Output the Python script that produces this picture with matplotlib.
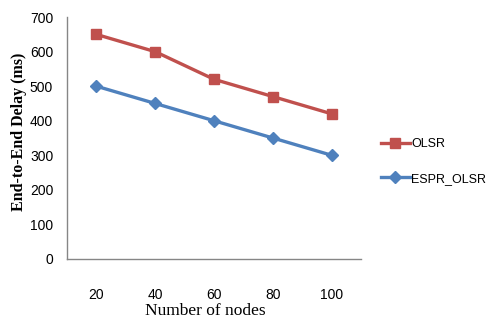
import matplotlib
matplotlib.use("Agg")
import matplotlib.pyplot as plt
import numpy as np

# data
nodes = ["20", "40", "60", "80", "100"]
olsr = [650, 600, 520, 470, 420]
espr_olsr = [500, 450, 400, 350, 300]
yticks = [0, 100, 200, 300, 400, 500, 600, 700]

tick_font = ["Liberation Sans", "DejaVu Sans"]
serif_font = ["Liberation Serif", "DejaVu Serif"]

fig = plt.figure(figsize=(4.86, 3.18), dpi=100)
ax = fig.add_axes([0.138, 0.186, 0.605, 0.76])

x = np.arange(len(nodes))
ax.plot(x, olsr, color="#C0504D", lw=2.4, marker="s", ms=7.5, label="OLSR")
ax.plot(x, espr_olsr, color="#4F81BD", lw=2.4, marker="D", ms=6.5, label="ESPR_OLSR")

ax.set_xlim(-0.5, len(nodes) - 0.5)
ax.set_ylim(0, 700)
ax.set_xticks(x)
ax.set_xticklabels(nodes, family=tick_font, fontsize=10)
ax.set_yticks(yticks)
ax.set_yticklabels([str(v) for v in yticks], family=tick_font, fontsize=10)
ax.tick_params(axis="both", length=0)
ax.tick_params(axis="y", pad=10)
ax.tick_params(axis="x", pad=21)

for s in ["top", "right"]:
    ax.spines[s].set_visible(False)
for s in ["left", "bottom"]:
    ax.spines[s].set_color("#868686")
    ax.spines[s].set_linewidth(1.0)

ax.set_xlabel("Number of nodes", family=serif_font, fontsize=12.5)
ax.xaxis.set_label_coords(0.47, -0.215)
ax.xaxis.label.set_va("center")
ax.set_ylabel("End-to-End Delay (ms)", family=serif_font, fontsize=11.5, fontweight="bold")
ax.yaxis.set_label_coords(-0.165, 0.525)
ax.yaxis.label.set_va("center")

leg = ax.legend(loc="center left", bbox_to_anchor=(1.068, 0.403), frameon=False,
                prop={"family": tick_font, "size": 9}, handlelength=2.3,
                labelspacing=1.8, handletextpad=0.1, borderpad=0, borderaxespad=0)

fig.savefig("out.png", dpi=100)
